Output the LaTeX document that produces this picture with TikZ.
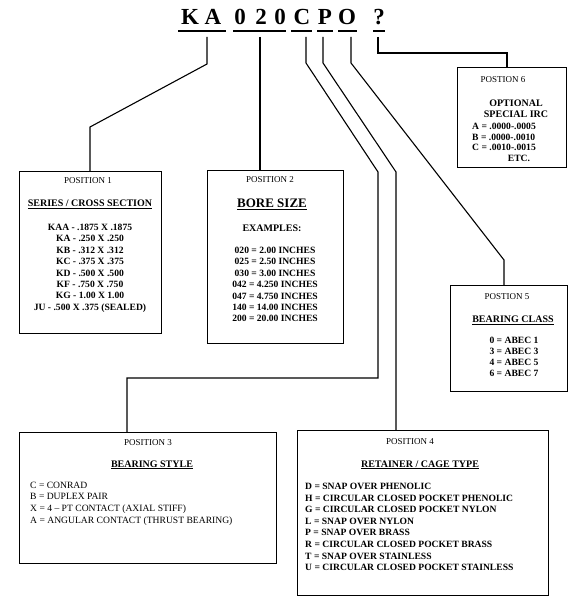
\documentclass[tikz,border=0pt]{standalone}
\usepackage{fontspec}
\setmainfont{Liberation Serif}
\begin{document}
\begin{tikzpicture}[x=1pt,y=-1pt,
  boxn/.style={draw, line width=1.3pt, anchor=north west, inner sep=0pt},
  wire/.style={line width=1.1pt},
  ttl/.style={font=\fontsize{23}{25}\selectfont\bfseries, anchor=base, inner sep=0pt},
  ul/.style={line width=2pt},
  hd/.style={font=\fontsize{9}{10}\selectfont, anchor=base, inner sep=0pt},
  sub/.style={font=\fontsize{10}{11}\selectfont\bfseries, anchor=base, inner sep=0pt},
  big/.style={font=\fontsize{13}{14}\selectfont\bfseries, anchor=base, inner sep=0pt},
  bd/.style={font=\fontsize{9.6}{11}\selectfont\bfseries, anchor=base, inner sep=0pt},
  bdl/.style={bd, anchor=base west},
  nl/.style={font=\fontsize{9.6}{11}\selectfont, anchor=base west, inner sep=0pt}
]
\useasboundingbox (0,0) rectangle (575,601);

% title letters
\node[ttl] (tK) at (190,25) {K};
\node[ttl] (tA) at (213,25) {A};
\node[ttl] (t0a) at (240,25) {0};
\node[ttl] (t2) at (261,25) {2};
\node[ttl] (t0b) at (280,25) {0};
\node[ttl] (tC) at (302,25) {C};
\node[ttl] (tP) at (325,25) {P};
\node[ttl] (tO) at (347,25) {O};
\node[ttl] (tQ) at (379,25) {?};

% underlines
\draw[ul] (178,31) -- (226,31);
\draw[ul] (233,31) -- (286,31);
\draw[ul] (291,31) -- (312,31);
\draw[ul] (317,31) -- (333,31);
\draw[ul] (338,31) -- (357,31);
\draw[ul] (373,31) -- (385,31);

% connector start points
\coordinate (sKA) at (207,37);
\coordinate (s020) at (260,37);
\coordinate (sC) at (306,37);
\coordinate (sP) at (323,37);
\coordinate (sO) at (351,37);
\coordinate (sQ) at (378,37);

% boxes
\node[boxn, minimum width=142pt, minimum height=162pt] (box1) at (19,171) {};
\node[boxn, minimum width=136pt, minimum height=173pt] (box2) at (207,170) {};
\node[boxn, minimum width=109pt, minimum height=100pt] (box6) at (457,67) {};
\node[boxn, minimum width=117pt, minimum height=106pt] (box5) at (450,285) {};
\node[boxn, minimum width=257pt, minimum height=131pt] (box3) at (19,432) {};
\node[boxn, minimum width=251pt, minimum height=165pt] (box4) at (297,430) {};

% connectors
\draw[wire] (sKA) -- (207,64) -- (90,127) -- (90,127 |- box1.north);
\draw[wire] (s020) -- (s020 |- box2.north);
\draw[wire] (sC) -- (306,63) -- (378,172) -- (378,378) -- (127,378) -- (127,378 |- box3.north);
\draw[wire] (sP) -- (323,63) -- (396,172) -- (396,172 |- box4.north);
\draw[wire] (sO) -- (351,63) -- (504,260) -- (504,260 |- box5.north);
\draw[wire] (sQ) -- (378,53) -- (507,53) -- (507,53 |- box6.north);

% box 1
\node[hd] (h1) at (88,184) {POSITION 1};
\node[sub] (s1) at (90,206.5) {\underline{SERIES / CROSS SECTION}};
\foreach \t [count=\i from 0] in {KAA - .1875 X .1875, KA - .250 X .250, KB - .312 X .312, KC - .375 X .375, KD - .500 X .500, KF - .750 X .750, KG - 1.00 X 1.00, JU - .500 X .375 (SEALED)}
  \node[bd] (a\i) at (90,{230.5+11.4*\i}) {\t};

% box 2
\node[hd] (h2) at (270,182.5) {POSITION 2};
\node[big] (s2) at (272,208) {\underline{BORE SIZE}};
\node[sub] (e2) at (272,231.5) {EXAMPLES:};
\foreach \t [count=\i from 0] in {020 = 2.00 INCHES, 025 = 2.50 INCHES, 030 = 3.00 INCHES, 042 = 4.250 INCHES, 047 = 4.750 INCHES, 140 = 14.00 INCHES, 200 = 20.00 INCHES}
  \node[bd] (b\i) at (275,{253.5+11.4*\i}) {\t};

% box 6
\node[hd] (h6) at (503,82.5) {POSTION 6};
\node[sub] (s6a) at (516,106.5) {OPTIONAL};
\node[sub] (s6b) at (516,117.5) {SPECIAL IRC};
\node[bdl] (f1) at (472,129.5) {A = .0000-.0005};
\node[bdl] (f2) at (472,140.5) {B = .0000-.0010};
\node[bdl] (f3) at (472,151) {C = .0010-.0015};
\node[bd] (f4) at (519,161.5) {ETC.};

% box 5
\node[hd] (h5) at (507,299.5) {POSTION 5};
\node[sub] (s5) at (513,322.5) {\underline{BEARING CLASS}};
\foreach \t [count=\i from 0] in {0 = ABEC 1, 3 = ABEC 3, 4 = ABEC 5, 6 = ABEC 7}
  \node[bd] (c\i) at (514,{343.5+11*\i}) {\t};

% box 3
\node[hd] (h3) at (148,445.5) {POSITION 3};
\node[sub] (s3) at (152,467) {\underline{BEARING STYLE}};
\foreach \t [count=\i from 0] in {C = CONRAD, B = DUPLEX PAIR, X = 4 -- PT CONTACT (AXIAL STIFF), A = ANGULAR CONTACT (THRUST BEARING)}
  \node[nl] (d\i) at (30,{488+11.8*\i}) {\t};

% box 4
\node[hd] (h4) at (410,444.5) {POSITION 4};
\node[sub] (s4) at (420,467) {\underline{RETAINER / CAGE TYPE}};
\foreach \t [count=\i from 0] in {D = SNAP OVER PHENOLIC, H = CIRCULAR CLOSED POCKET PHENOLIC, G = CIRCULAR CLOSED POCKET NYLON, L = SNAP OVER NYLON, P = SNAP OVER BRASS, R = CIRCULAR CLOSED POCKET BRASS, T = SNAP OVER STAINLESS, U = CIRCULAR CLOSED POCKET STAINLESS}
  \node[bdl] (g\i) at (305,{489.5+11.6*\i}) {\t};
\end{tikzpicture}
\end{document}
